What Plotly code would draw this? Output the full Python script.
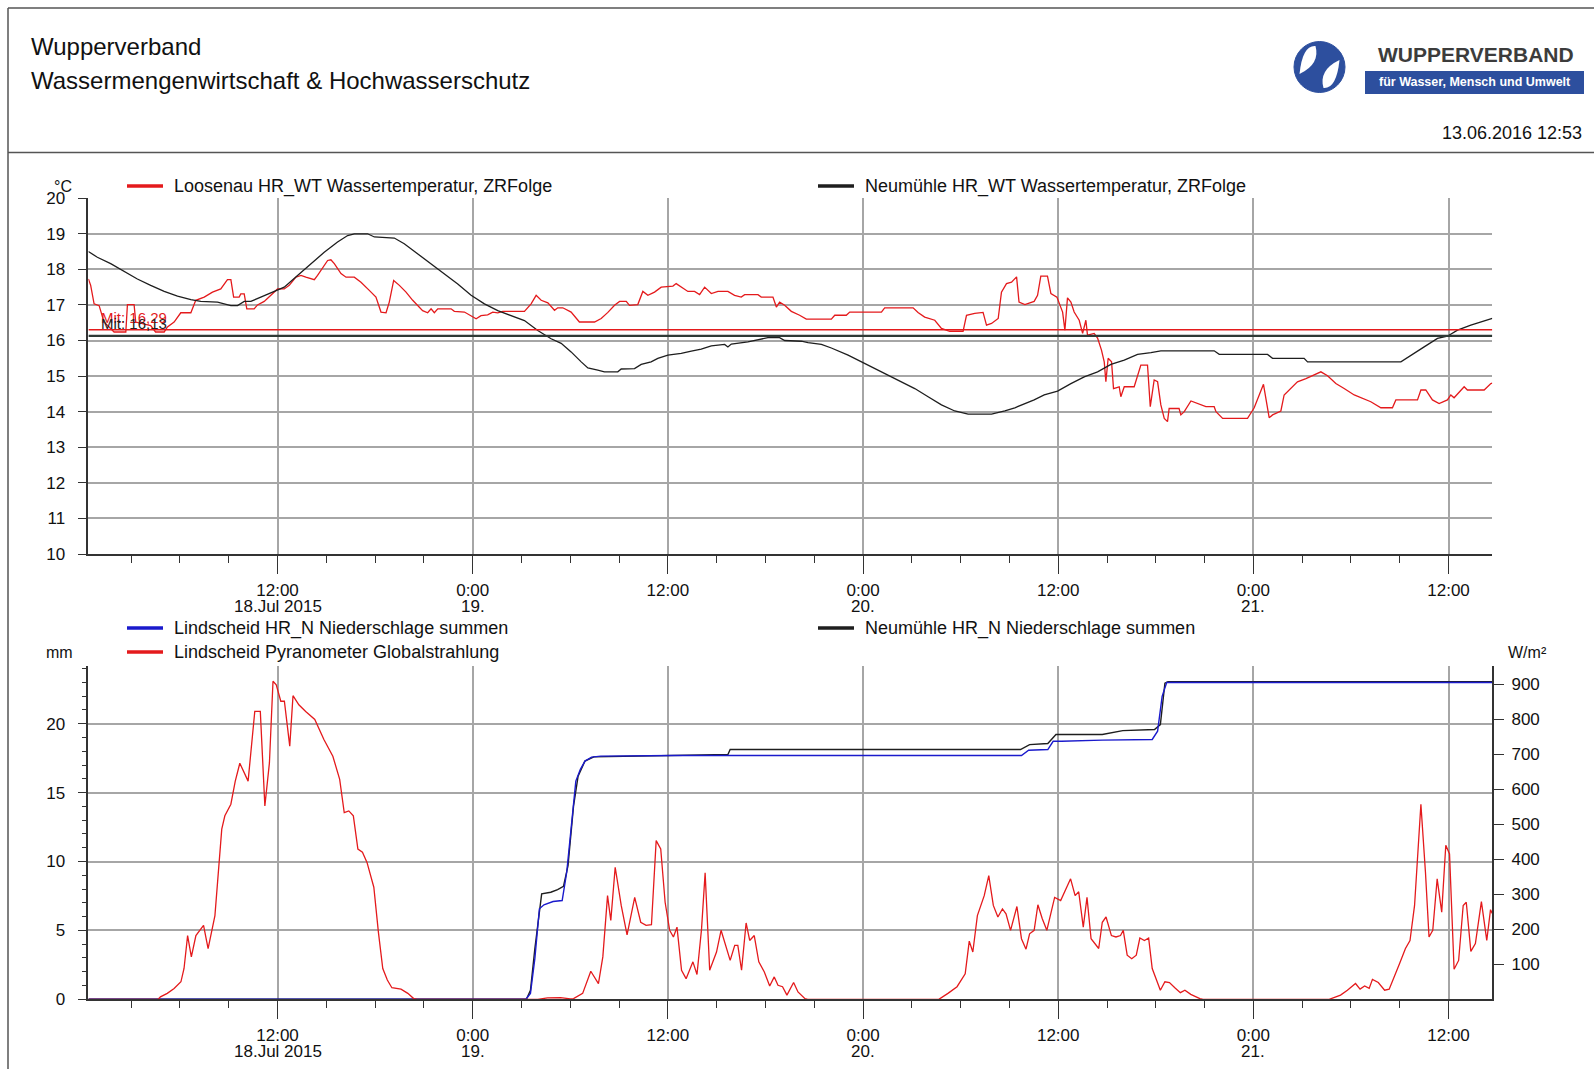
import pandas as pd
import plotly.graph_objects as go

W, H = 1594, 1069
FONT = "Liberation Sans, Arial, sans-serif"
RED = "#e41a1c"
BLUE = "#1a1acc"
BLACK = "#1e1e1e"
GRID = "#a6a6a6"
AX = "#333333"

BASE = pd.Timestamp("2015-07-18 00:00")
T_START, T_END = 0.37, 86.69

# ---------------- data (hours after 18.07.2015 0:00) ----------------
loosenau_h = [0.37, 0.51, 0.72, 1.03, 1.33, 1.95, 2.67, 2.77, 3.18, 3.28, 4.2, 4.5, 5.03, 5.23, 5.64, 6.05, 6.67, 6.97, 7.49, 8.0,
              8.51, 8.92, 9.13, 9.3, 9.64, 9.74, 9.95, 10.11, 10.56, 10.77, 11.18, 11.59, 12.0, 12.41, 12.72, 13.13, 13.44, 13.74, 14.26, 14.46,
              14.77, 15.08, 15.28, 15.49, 15.9, 16.21, 16.72, 17.13, 17.64, 18.05, 18.36, 18.67, 18.87, 19.14, 19.49, 19.9, 20.31, 20.62, 20.92, 21.23,
              21.44, 21.64, 21.85, 22.67, 22.87, 23.49, 23.9, 24.21, 24.51, 24.92, 25.23, 25.54, 25.85, 27.18, 27.59, 27.9, 28.21, 28.62, 29.03, 29.23,
              29.54, 30.05, 30.56, 31.49, 31.9, 32.31, 32.72, 33.03, 33.44, 33.64, 34.15, 34.46, 34.77, 35.18, 35.59, 36.31, 36.51, 36.82, 37.23, 37.64,
              37.95, 38.26, 38.67, 39.08, 39.69, 40.1, 40.51, 40.72, 41.54, 41.74, 42.46, 42.67, 42.87, 43.18, 43.59, 44.1, 44.51, 46.05, 46.26, 46.97,
              47.18, 49.13, 49.33, 51.08, 51.38, 51.79, 52.41, 52.82, 53.33, 54.15, 54.36, 54.87, 55.38, 55.59, 55.9, 56.31, 56.51, 56.82, 57.13, 57.44,
              57.59, 57.95, 58.26, 58.52, 58.73, 58.93, 59.34, 59.55, 59.92, 60.27, 60.41, 60.57, 60.78, 60.98, 61.29, 61.5, 61.7, 61.8, 62.21, 62.42,
              62.66, 62.83, 62.93, 63.07, 63.28, 63.4, 63.75, 63.85, 64.06, 64.67, 65.08, 65.49, 65.66, 65.9, 66.11, 66.31, 66.52, 66.72, 66.82, 67.43,
              67.54, 67.75, 68.16, 68.57, 69.08, 69.59, 69.7, 70.11, 71.64, 72.05, 72.46, 72.62, 72.77, 72.97, 73.18, 73.69, 73.89, 74.3, 74.71, 75.23,
              75.74, 76.15, 76.56, 77.07, 77.58, 78.2, 79.22, 79.84, 80.55, 80.76, 82.09, 82.3, 82.6, 83.01, 83.42, 83.93, 84.14, 84.34, 84.96, 85.16,
              86.19, 86.6, 86.69]
loosenau_t = [17.73, 17.55, 17.03, 16.98, 16.52, 16.24, 16.24, 17.01, 17.01, 16.52, 16.42, 16.24, 16.24, 16.38, 16.52, 16.78, 16.78, 17.13, 17.22, 17.36,
              17.45, 17.71, 17.71, 17.22, 17.22, 17.31, 17.31, 16.89, 16.89, 17.0, 17.1, 17.27, 17.45, 17.45, 17.55, 17.78, 17.83, 17.78, 17.71, 17.83,
              18.06, 18.25, 18.27, 18.16, 17.88, 17.78, 17.78, 17.64, 17.41, 17.22, 16.8, 16.78, 17.08, 17.69, 17.55, 17.36, 17.13, 16.98, 16.84, 16.78,
              16.89, 16.78, 16.89, 16.89, 16.82, 16.8, 16.7, 16.61, 16.7, 16.72, 16.8, 16.78, 16.82, 16.82, 17.03, 17.27, 17.13, 17.06, 16.85, 16.92,
              16.92, 16.8, 16.52, 16.52, 16.62, 16.79, 16.99, 17.1, 17.1, 16.99, 17.01, 17.38, 17.27, 17.36, 17.5, 17.53, 17.6, 17.5, 17.38, 17.38,
              17.29, 17.5, 17.32, 17.38, 17.38, 17.27, 17.22, 17.29, 17.29, 17.22, 17.22, 16.94, 17.08, 16.99, 16.82, 16.71, 16.6, 16.6, 16.71, 16.71,
              16.8, 16.8, 16.92, 16.92, 16.79, 16.66, 16.57, 16.34, 16.26, 16.26, 16.71, 16.76, 16.79, 16.43, 16.48, 16.62, 17.36, 17.6, 17.64, 17.79,
              17.08, 17.01, 17.05, 17.1, 17.27, 17.81, 17.81, 17.32, 17.22, 16.8, 16.29, 17.2, 17.08, 16.8, 16.57, 16.2, 16.57, 16.15, 16.2, 16.07,
              15.73, 15.4, 14.84, 15.5, 15.4, 14.65, 14.7, 14.42, 14.7, 14.7, 15.31, 15.31, 14.14, 14.89, 14.84, 14.19, 13.81, 13.72, 14.09, 14.09,
              13.91, 14.0, 14.3, 14.23, 14.14, 14.14, 14.0, 13.81, 13.81, 14.11, 14.56, 14.77, 14.37, 13.83, 13.91, 14.02, 14.47, 14.65, 14.84, 14.93,
              15.03, 15.12, 15.01, 14.79, 14.65, 14.47, 14.28, 14.11, 14.11, 14.33, 14.33, 14.61, 14.61, 14.33, 14.23, 14.33, 14.47, 14.39, 14.7, 14.61,
              14.61, 14.79, 14.8]

neumuehle_h = [0.37, 0.92, 1.74, 2.56, 3.38, 4.2, 5.03, 5.85, 6.67, 7.28, 8.31, 9.13, 9.54, 9.95, 10.36, 10.97, 11.59, 12.41, 13.23, 14.05,
               14.87, 15.69, 16.31, 16.72, 17.54, 17.95, 19.18, 19.79, 20.62, 21.44, 22.26, 23.08, 23.9, 24.72, 25.54, 26.36, 27.18, 28.0, 28.82, 29.44,
               30.05, 30.67, 31.08, 31.69, 32.1, 32.92, 33.13, 33.95, 34.36, 34.97, 35.38, 36.0, 36.82, 37.44, 38.05, 38.67, 39.49, 39.69, 39.9, 40.92,
               41.33, 42.15, 42.87, 43.18, 44.21, 44.62, 45.44, 46.05, 47.08, 47.9, 48.72, 49.54, 50.36, 51.18, 52.0, 52.82, 53.64, 54.46, 55.9, 56.72,
               57.33, 58.52, 59.14, 59.96, 60.78, 61.6, 62.42, 63.24, 64.06, 64.88, 65.7, 66.31, 69.59, 69.9, 72.87, 73.18, 75.12, 75.33, 81.07, 81.68,
               82.5, 83.32, 83.93, 84.55, 85.37, 86.69]
neumuehle_t = [18.5, 18.34, 18.16, 17.94, 17.73, 17.55, 17.38, 17.25, 17.15, 17.1, 17.08, 16.98, 16.98, 17.1, 17.1, 17.22, 17.34, 17.5, 17.83, 18.16,
               18.48, 18.77, 18.95, 19.0, 19.0, 18.91, 18.88, 18.72, 18.44, 18.16, 17.88, 17.59, 17.27, 17.03, 16.84, 16.7, 16.56, 16.28, 16.05, 15.92,
               15.68, 15.4, 15.23, 15.17, 15.12, 15.12, 15.2, 15.21, 15.33, 15.4, 15.5, 15.59, 15.64, 15.7, 15.76, 15.85, 15.89, 15.82, 15.9, 15.96,
               16.0, 16.08, 16.08, 16.0, 15.98, 15.94, 15.89, 15.79, 15.59, 15.4, 15.23, 15.03, 14.84, 14.65, 14.42, 14.19, 14.02, 13.93, 13.93, 14.02,
               14.11, 14.33, 14.47, 14.58, 14.79, 14.98, 15.12, 15.33, 15.45, 15.61, 15.66, 15.71, 15.71, 15.61, 15.61, 15.5, 15.5, 15.4, 15.4, 15.59,
               15.82, 16.06, 16.12, 16.29, 16.43, 16.62]

loosenau_mean = 16.30
neumuehle_mean = 16.13
loosenau_mean_label = "Mit: 16,29"
neumuehle_mean_label = "Mit: 16,13"

strahlung_h = [0.37, 4.66, 4.8, 5.22, 5.64, 6.06, 6.25, 6.47, 6.7, 6.98, 7.45, 7.73, 8.15, 8.37, 8.57, 8.76, 9.13, 9.4, 9.68, 10.19,
               10.6, 10.94, 11.22, 11.5, 11.72, 11.92, 12.2, 12.42, 12.75, 12.95, 13.31, 13.73, 14.29, 14.85, 15.4, 15.82, 16.1, 16.38, 16.66, 16.94,
               17.22, 17.5, 17.92, 18.2, 18.47, 18.75, 19.03, 19.59, 20.01, 20.37, 20.6, 28.0, 28.6, 29.4, 30.0, 30.2, 30.76, 31.26, 31.73, 32.0,
               32.29, 32.49, 32.76, 33.13, 33.49, 33.96, 34.33, 34.66, 34.99, 35.28, 35.56, 35.83, 36.11, 36.34, 36.56, 36.84, 37.12, 37.54, 37.79, 38.07,
               38.29, 38.57, 38.99, 39.27, 39.83, 40.11, 40.3, 40.53, 40.81, 41.03, 41.31, 41.59, 41.93, 42.26, 42.54, 42.77, 43.05, 43.32, 43.73, 44.0,
               44.43, 44.6, 52.66, 53.22, 53.78, 54.28, 54.53, 54.75, 55.03, 55.45, 55.73, 56.01, 56.29, 56.57, 56.79, 57.07, 57.46, 57.74, 58.02, 58.24,
               58.52, 58.75, 59.02, 59.3, 59.78, 60.15, 60.48, 60.76, 61.04, 61.26, 61.54, 61.77, 62.02, 62.49, 62.71, 62.94, 63.27, 63.55, 63.83, 64.0,
               64.24, 64.52, 64.8, 65.02, 65.3, 65.56, 65.78, 66.0, 66.28, 66.56, 66.84, 67.17, 67.51, 67.79, 68.15, 68.71, 68.9, 76.66, 77.36, 77.78,
               78.28, 78.56, 78.84, 79.12, 79.32, 79.68, 80.07, 80.35, 80.63, 80.99, 81.35, 81.63, 81.91, 82.3, 82.58, 82.8, 83.03, 83.3, 83.58, 83.83,
               84.06, 84.34, 84.62, 84.9, 85.09, 85.37, 85.65, 86.02, 86.35, 86.58, 86.69]
strahlung_w = [0, 0, 7, 17, 31, 50, 88, 182, 121, 182, 211, 145, 239, 382, 486, 524, 557, 623, 674, 623,
               822, 822, 552, 675, 908, 898, 851, 851, 723, 867, 841, 822, 799, 742, 694, 628, 533, 538, 524, 429,
               420, 391, 320, 192, 88, 55, 33, 29, 17, 2, 0, 0, 4, 5, 1, 2, 17, 80, 45, 121,
               296, 225, 377, 268, 184, 291, 220, 211, 213, 453, 429, 277, 197, 178, 206, 83, 59, 107, 71, 201,
               361, 83, 135, 197, 111, 154, 154, 83, 218, 168, 182, 107, 78, 38, 64, 40, 36, 12, 48, 21,
               2, 0, 0, 17, 36, 73, 166, 135, 239, 296, 353, 268, 235, 258, 244, 197, 265, 173, 143, 187,
               197, 270, 230, 197, 291, 282, 315, 344, 296, 307, 206, 291, 173, 145, 220, 235, 182, 178, 182, 197,
               126, 116, 126, 175, 168, 175, 88, 59, 26, 50, 48, 33, 19, 26, 14, 2, 0, 0, 12, 26,
               45, 29, 38, 31, 57, 48, 26, 29, 59, 102, 145, 168, 268, 557, 363, 178, 197, 344, 249, 440,
               415, 86, 111, 268, 277, 137, 159, 279, 168, 256, 245]

lindscheid_n_h = [0.37, 27.27, 27.55, 27.82, 28.1, 28.38, 28.94, 29.5, 29.78, 30.06, 30.34, 30.62, 30.9, 31.31, 31.87, 36.34, 57.74, 58.18, 59.36, 59.69,
                  60.2, 62.71, 65.78, 66.11, 66.39, 66.67, 86.69]
lindscheid_n_mm = [0, 0, 0.42, 2.95, 6.57, 6.86, 7.1, 7.17, 9.22, 12.6, 15.84, 16.69, 17.29, 17.58, 17.65, 17.7, 17.7, 18.08, 18.13, 18.73,
                   18.73, 18.81, 18.86, 19.46, 21.99, 23.0, 23.0]

neumuehle_n_h = [0.37, 27.3, 27.55, 27.82, 28.24, 28.8, 29.22, 29.58, 29.86, 30.2, 30.48, 30.9, 31.45, 36.9, 39.69, 39.83, 57.68, 58.24, 59.36, 59.86,
                 62.71, 63.97, 65.92, 66.28, 66.56, 66.75, 86.69]
neumuehle_n_mm = [0, 0, 0.66, 3.67, 7.65, 7.77, 7.96, 8.2, 9.7, 14.04, 16.2, 17.29, 17.6, 17.7, 17.77, 18.13, 18.13, 18.49, 18.57, 19.22,
                  19.22, 19.5, 19.58, 19.94, 22.95, 23.05, 23.05]

tick_hours = [12, 24, 36, 48, 60, 72, 84]
tick_time = ["12:00", "0:00", "12:00", "0:00", "12:00", "0:00", "12:00"]
tick_date = ["18.Jul 2015", "19.", "", "20.", "", "21.", ""]
temp_ticks = [10, 11, 12, 13, 14, 15, 16, 17, 18, 19, 20]
mm_ticks = [0, 5, 10, 15, 20]
wm2_ticks = [100, 200, 300, 400, 500, 600, 700, 800, 900]

# ---------------- helpers ----------------
def ts(hours):
    return BASE + pd.to_timedelta(pd.Series(hours, dtype=float), unit="h")

def px(x):
    return x / W

def py(y):
    return 1 - y / H

x_rng = [BASE + pd.Timedelta(hours=T_START), BASE + pd.Timedelta(hours=T_END)]

XDOM = [px(88.4), px(1492.3)]
Y1DOM = [py(554.0), py(198.2)]
Y2DOM = [py(999.3), py(665.9)]

fig = go.Figure()

# top panel
fig.add_trace(go.Scatter(x=ts(loosenau_h), y=loosenau_t, mode="lines", line=dict(color=RED, width=1.3),
                         xaxis="x", yaxis="y", showlegend=False))
fig.add_trace(go.Scatter(x=ts(neumuehle_h), y=neumuehle_t, mode="lines", line=dict(color=BLACK, width=1.3),
                         xaxis="x", yaxis="y", showlegend=False))
fig.add_trace(go.Scatter(x=x_rng, y=[neumuehle_mean] * 2, mode="lines", line=dict(color="#2e3a36", width=2.4),
                         xaxis="x", yaxis="y", showlegend=False))
fig.add_trace(go.Scatter(x=x_rng, y=[loosenau_mean] * 2, mode="lines", line=dict(color=RED, width=1.5),
                         xaxis="x", yaxis="y", showlegend=False))

# bottom panel
fig.add_trace(go.Scatter(x=ts(neumuehle_n_h), y=neumuehle_n_mm, mode="lines", line=dict(color=BLACK, width=1.4),
                         xaxis="x2", yaxis="y2", showlegend=False))
fig.add_trace(go.Scatter(x=ts(lindscheid_n_h), y=lindscheid_n_mm, mode="lines", line=dict(color=BLUE, width=1.4),
                         xaxis="x2", yaxis="y2", showlegend=False))
fig.add_trace(go.Scatter(x=ts(strahlung_h), y=strahlung_w, mode="lines", line=dict(color=RED, width=1.3),
                         xaxis="x2", yaxis="y3", showlegend=False))

tick_dates = [BASE + pd.Timedelta(hours=h) for h in tick_hours]
xcommon = dict(type="date", range=x_rng, domain=XDOM, tickmode="array", tickvals=tick_dates, ticktext=tick_time,
               ticks="outside", ticklen=18, tickwidth=1.3, tickcolor=AX, showline=True, linecolor=AX, linewidth=1.5,
               showgrid=True, gridcolor=GRID, gridwidth=1.5, zeroline=False, ticklabelstandoff=2, automargin=False,
               tickfont=dict(family=FONT, size=17, color="#111"),
               minor=dict(tickmode="linear", tick0=BASE, dtick=3 * 3600 * 1000, ticks="outside", ticklen=7,
                          tickwidth=1.2, tickcolor=AX, showgrid=False))

fig.update_layout(
    width=W, height=H, margin=dict(l=0, r=0, t=0, b=0, pad=0, autoexpand=False),
    paper_bgcolor="white", plot_bgcolor="white",
    font=dict(family=FONT, size=17, color="#111"), showlegend=False,
    xaxis=dict(anchor="y", **xcommon),
    xaxis2=dict(anchor="y2", **xcommon),
    yaxis=dict(domain=Y1DOM, range=[10, 20], tickmode="array", tickvals=temp_ticks, ticks="outside", ticklen=9,
               tickwidth=1.3, tickcolor=AX, showline=True, linecolor=AX, linewidth=1.5, showgrid=True,
               gridcolor=GRID, gridwidth=1.5, zeroline=False, anchor="x", ticklabelstandoff=9, automargin=False,
               tickfont=dict(family=FONT, size=17, color="#111")),
    yaxis2=dict(domain=Y2DOM, range=[0, 24.2], tickmode="array", tickvals=mm_ticks, ticks="outside", ticklen=9,
                tickwidth=1.3, tickcolor=AX, showline=True, linecolor=AX, linewidth=1.5, showgrid=True,
                gridcolor=GRID, gridwidth=1.5, zeroline=False, anchor="x2", ticklabelstandoff=9, automargin=False,
                tickfont=dict(family=FONT, size=17, color="#111"),
                minor=dict(tickmode="linear", tick0=0, dtick=1, ticks="outside", ticklen=5, tickwidth=1,
                           tickcolor=AX, showgrid=False)),
    yaxis3=dict(overlaying="y2", side="right", range=[0, 952], tickmode="array", tickvals=wm2_ticks,
                ticks="outside", ticklen=10, tickwidth=1.3, tickcolor=AX, showline=True, linecolor=AX,
                linewidth=1.5, showgrid=False, zeroline=False, anchor="x2", ticklabelstandoff=4, automargin=False,
                tickfont=dict(family=FONT, size=17, color="#111")),
)

shapes = []
ann = []

# page frame
shapes.append(dict(type="line", xref="paper", yref="paper", x0=px(8), x1=px(1594), y0=py(8), y1=py(8),
                   line=dict(color="#555", width=1.5)))
shapes.append(dict(type="line", xref="paper", yref="paper", x0=px(8), x1=px(8), y0=py(8), y1=py(1069),
                   line=dict(color="#555", width=1.5)))
shapes.append(dict(type="line", xref="paper", yref="paper", x0=px(8), x1=px(1594), y0=py(152.5), y1=py(152.5),
                   line=dict(color="#555", width=1.5)))

def text(x, y, s, size=17, color="#111", xanchor="left", bold=False):
    ann.append(dict(xref="paper", yref="paper", x=px(x), y=py(y), text=("<b>%s</b>" % s) if bold else s,
                    showarrow=False, xanchor=xanchor, yanchor="middle",
                    font=dict(family=FONT, size=size, color=color)))

# header
text(29, 46, "Wupperverband", size=24)
text(29, 80.5, "Wassermengenwirtschaft &amp; Hochwasserschutz", size=24)
text(1584, 133.5, "13.06.2016 12:53", size=18, xanchor="right")

# logo: blue disc with two white lens shapes forming an S-wave
cx, cy, r = 1319.5, 67.0, 25.5
LOGO_BLUE = "#2d4f9e"
shapes.append(dict(type="circle", xref="paper", yref="paper", x0=px(cx - r), x1=px(cx + r), y0=py(cy + r), y1=py(cy - r),
                   fillcolor=LOGO_BLUE, line=dict(color=LOGO_BLUE, width=1)))

def lens(a, c_out, b, c_in):
    return "M %f,%f Q %f,%f %f,%f Q %f,%f %f,%f Z" % (
        px(a[0]), py(a[1]), px(c_out[0]), py(c_out[1]), px(b[0]), py(b[1]),
        px(c_in[0]), py(c_in[1]), px(a[0]), py(a[1]))

shapes.append(dict(type="path", xref="paper", yref="paper",
                   path=lens((cx - 4, cy - 21), (cx - 17, cy - 22), (cx - 20, cy + 7), (cx + 1, cy - 3)),
                   fillcolor="white", line=dict(width=0)))
shapes.append(dict(type="path", xref="paper", yref="paper",
                   path=lens((cx + 4, cy + 21), (cx + 17, cy + 22), (cx + 20, cy - 7), (cx - 1, cy + 3)),
                   fillcolor="white", line=dict(width=0)))
text(1376, 54.5, "WUPPERVERBAND", size=21, color="#3c3c3c", bold=True)
shapes.append(dict(type="rect", xref="paper", yref="paper", x0=px(1365), x1=px(1584), y0=py(94), y1=py(71),
                   fillcolor=LOGO_BLUE, line=dict(width=0)))
text(1474.5, 82.5, "für Wasser, Mensch und Umwelt", size=12.5, color="white", xanchor="center", bold=True)

# axis units
text(63, 186, "°C", size=16, xanchor="center")
text(59, 652, "mm", size=16, xanchor="center")
text(1527, 652, "W/m²", size=16, xanchor="center")

# second line of the time labels (dates)
for xa, yline in [("x", 606.5), ("x2", 1051.5)]:
    for d, lab in zip(tick_dates, tick_date):
        if lab:
            ann.append(dict(xref=xa, yref="paper", x=d, y=py(yline), text=lab, showarrow=False,
                            xanchor="center", yanchor="middle", font=dict(family=FONT, size=17, color="#111")))

# legends
def legend(x, y, color, label):
    shapes.append(dict(type="line", xref="paper", yref="paper", x0=px(x), x1=px(x + 36), y0=py(y), y1=py(y),
                       line=dict(color=color, width=3.5)))
    text(x + 45, y, label, size=18)

legend(127, 186, RED, "Loosenau HR_WT Wassertemperatur, ZRFolge")
legend(818, 186, BLACK, "Neumühle HR_WT Wassertemperatur, ZRFolge")
legend(127, 628, BLUE, "Lindscheid HR_N Niederschlage summen")
legend(127, 652, RED, "Lindscheid Pyranometer Globalstrahlung")
legend(818, 628, BLACK, "Neumühle HR_N Niederschlage summen")

# mean labels
for label, val, color, dy in [(loosenau_mean_label, loosenau_mean, RED, 2),
                              (neumuehle_mean_label, neumuehle_mean, "#222", 2)]:
    ann.append(dict(xref="paper", yref="y", x=px(99), y=val, text=label, showarrow=False,
                    xanchor="left", yanchor="bottom", yshift=dy, font=dict(family=FONT, size=15, color=color)))

fig.update_layout(shapes=shapes, annotations=ann)

fig.write_html("out.html", config={"displayModeBar": False},
               post_script="document.body.style.margin='0';document.body.style.overflow='hidden';")
